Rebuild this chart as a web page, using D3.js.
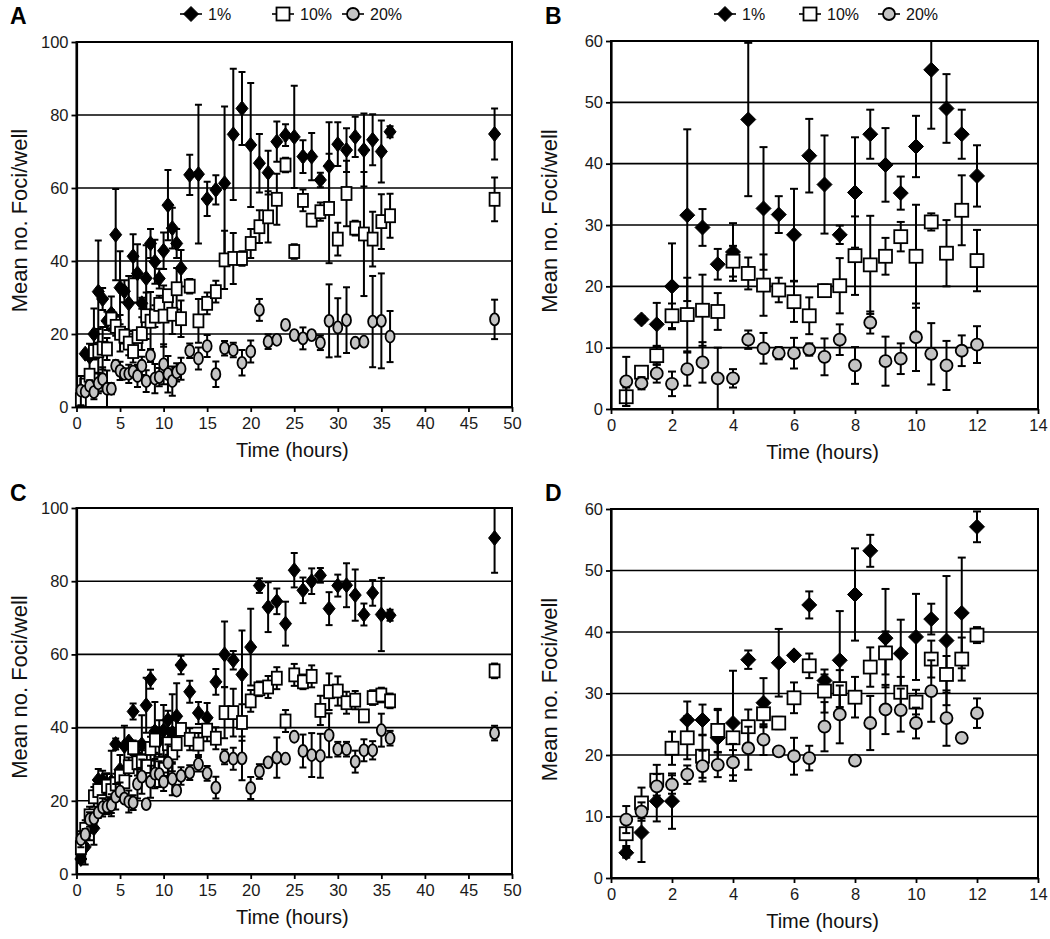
<!DOCTYPE html>
<html><head><meta charset="utf-8">
<script src="https://cdn.jsdelivr.net/npm/d3@7"></script>
<style>body{margin:0;background:#fff;} text{font-family:Arial,"Liberation Sans",sans-serif;}</style>
</head><body>
<svg id="chart" width="1050" height="939"></svg>
<script>
const seriesNames = ["1%", "10%", "20%"];
const hoursEarly = [0.5,1,1.5,2,2.5,3,3.5,4,4.5,5,5.5,6,6.5,7,7.5,8,8.5,9,9.5,10,10.5,11,11.5,12];
const hoursLate = [13,14,15,16,17,18,19,20,21,22,23,24,25,26,27,28,29,30,31,32,33,34,35,36,48];

// Panel B (first 12 h of experiment shown in A)
const B_1 = [null,14.6,13.8,20,31.6,29.6,23.6,25.6,47.2,32.7,31.7,28.4,41.3,36.6,28.4,35.3,44.8,39.8,35.2,42.8,55.3,49,44.8,38];
const B_1err = [null,0.5,3.5,7,14,3,2.5,4.7,12.5,10,3,7.5,6,8,1.5,9,4,6,2.7,5,9.6,5.6,4,5];
const B_10 = [2,6,8.7,15.2,15.4,16.1,15.9,24.1,22.1,20.2,19.4,17.5,15.2,19.3,20.1,25,23.5,24.9,28.1,24.9,30.5,25.4,32.4,24.2];
const B_10err = [1.5,1,1.5,2,6,5.8,3,2.5,2.6,5,2,3.3,3,1,4.5,6.4,8,3,2.4,8.4,1.4,5.4,5.7,5];
const B_20 = [4.5,4.2,5.8,4.1,6.5,7.6,5,5,11.3,9.9,9.1,9.1,9.7,8.5,11.3,7.1,14.1,7.8,8.2,11.7,9,7.1,9.5,10.5];
const B_20err = [4,1,1.5,2,2.7,3.3,5,1.5,1.5,2.5,1,2.5,1,3,2.5,3,1.8,4,2.5,5.5,5,4,2.5,3];

// Panel A, hours 13-36 and 48
const A_1late = [63.6,63.8,57,59.5,61.3,74.7,81.8,71.8,66.8,64.2,72.7,74.5,74,68.6,68.6,62.2,66,72,70.4,74,70.4,73.2,70,75.4,74.8];
const A_1lateErr = [5.5,19,4.7,4,21,18,10,17,8,6,5.5,3,14,4.5,6.5,2,12,6,6,5.5,10,7,8.5,1.5,7];
const A_10late = [33.1,23.6,28.4,31.6,40.3,40.7,40.7,44.8,49.4,52.1,56.9,66.3,42.6,56.6,51.2,53.5,54.4,46,58.5,49,47.4,46,50.8,52.4,56.9];
const A_10lateErr = [2,6,3,3,8,7,2,4,4.5,7,7,2,2,3,1,2.5,15,4.5,9,2,17,7.5,7.5,6,6];
const A_20late = [15.4,13.3,16.7,9,16.1,15.6,12.1,15.2,26.6,17.9,18.4,22.5,19.7,18.8,19.7,17.6,23.6,21.8,23.8,17.6,17.9,23.4,23.6,19.3,24];
const A_20lateErr = [2,3,3,3.5,2,2,3.5,3,3,2,1,1,1,3,1,2,10,8,9,1,1,12.5,13,7,5.4];

// Panel D (first 12 h of experiment shown in C)
const D_1 = [4.1,7.4,12.5,12.5,25.7,25.7,22.8,25.2,35.5,28.5,35,36.2,44.4,32.1,35.4,46.1,53.2,39,36.5,39.2,42.1,38.6,43.1,57.1];
const D_1err = [0.8,4.8,3.3,4.5,3,2.5,4.5,8.5,1.5,4,5.5,0.5,2.2,1,8,7.5,2.6,8,5.5,7,2.5,10.5,9,2.5];
const D_10 = [7.2,12.2,15.9,21.1,22.8,19.8,24,22.8,24.6,26.7,25.2,29.3,34.5,30.4,30.8,29.4,34.3,36.6,30.2,28.6,35.6,33.1,35.6,39.5];
const D_10err = [2,2.5,2.5,2.7,3.5,3.5,3.5,2,2.8,2,1,2.5,2,3.5,3,3.3,3.2,3.5,2.5,2,3,3,3.5,1.3];
const D_20 = [9.5,10.8,14.9,15.2,16.8,18.2,18.4,18.8,21.1,22.5,20.6,19.8,19.5,24.6,26.6,19.1,25.2,27.4,27.3,25.2,30.4,26,22.8,26.8];
const D_20err = [2.2,1.5,2,1.5,1.5,2.5,2,3,3.5,2.5,0.5,3,2,4,4.7,0.5,4.4,4,3.5,2.5,5,4.5,0.7,2.4];

// Panel C, hours 13-36 and 48
const C_1late = [49.8,44,42.7,52.5,60,58.4,54.5,62,78.8,72.9,74.5,68.4,83,77.5,80,81.6,72.5,78.8,78.9,76.2,70.9,76.8,70.9,70.7,91.8];
const C_1lateErr = [3,3,4,3.5,9,2.5,12,10.5,2,6.8,3.5,6,4.7,3.5,3.5,2,4.5,3,6,7,3,3.5,10,1.5,9.5];
const C_10late = [36.8,35.5,39.3,37.1,44.1,44.1,41.4,47.3,50.6,51.1,53.5,41.8,54.4,52.5,54,44.7,49.8,50,46.8,47.5,43.2,48.2,48.9,47.3,55.5];
const C_10lateErr = [3,3,3,3,7,6.5,5,3,2,3,3,3,3,2,3,4,5,4,3,2.5,1.5,2,2,2,2];
const C_20late = [27.7,30,27.5,23.6,32,31.5,31.6,23.5,28,30.5,31.8,31.5,37.5,33.6,32.5,32.3,37.9,34.1,34.1,30.7,33.8,33.8,39.3,37.1,38.5];
const C_20lateErr = [2,2,2,3,2,3,6,3,2,1,5.5,1,1,4.5,6,6,6,2,2,3,3,2.5,4.5,2,2];

const ticksLong = [0,5,10,15,20,25,30,35,40,45,50];
const ticksShort = [0,2,4,6,8,10,12,14];
const yTicks100 = [0,20,40,60,80,100];
const yTicks60 = [0,10,20,30,40,50,60];

const hoursAll = hoursEarly.concat(hoursLate);
const svg = d3.select("#chart");

const panels = [
  {id:"A", left:76.5, right:512, top:42, bottom:407, xDom:[0,50], yDom:[0,100], xT:ticksLong, yT:yTicks100,
   hours:hoursAll, legend:true, mk:{dw:12,dh:15,sw:10,sh:13,cw:9,ch:12}, cap:7,
   vals:[B_1.concat(A_1late), B_10.concat(A_10late), B_20.concat(A_20late)],
   errs:[B_1err.concat(A_1lateErr), B_10err.concat(A_10lateErr), B_20err.concat(A_20lateErr)],
   letterX:10, letterY:24, ylabX:27, legX:[191,283,353]},
  {id:"B", left:611, right:1038, top:41, bottom:409, xDom:[0,14], yDom:[0,60], xT:ticksShort, yT:yTicks60,
   hours:hoursEarly, legend:true, mk:{dw:15,dh:15,sw:13,sh:13,cw:12,ch:12}, cap:8,
   vals:[B_1,B_10,B_20], errs:[B_1err,B_10err,B_20err],
   letterX:545, letterY:24, ylabX:557, legX:[725,810,889]},
  {id:"C", left:76.5, right:512, top:508, bottom:874, xDom:[0,50], yDom:[0,100], xT:ticksLong, yT:yTicks100,
   hours:hoursAll, legend:false, mk:{dw:12,dh:15,sw:10,sh:13,cw:9,ch:12}, cap:7,
   vals:[D_1.concat(C_1late), D_10.concat(C_10late), D_20.concat(C_20late)],
   errs:[D_1err.concat(C_1lateErr), D_10err.concat(C_10lateErr), D_20err.concat(C_20lateErr)],
   letterX:10, letterY:501, ylabX:27},
  {id:"D", left:611, right:1038, top:509, bottom:878, xDom:[0,14], yDom:[0,60], xT:ticksShort, yT:yTicks60,
   hours:hoursEarly, legend:false, mk:{dw:15,dh:15,sw:13,sh:13,cw:12,ch:12}, cap:8,
   vals:[D_1,D_10,D_20], errs:[D_1err,D_10err,D_20err],
   letterX:545, letterY:501, ylabX:557}
];

function drawMarker(sel, kind, m){
  if(kind===0){
    sel.append("path").attr("d", `M0,${-m.dh/2}L${m.dw/2},0L0,${m.dh/2}L${-m.dw/2},0Z`)
      .attr("fill","#000").attr("stroke","#000").attr("stroke-width",1);
  } else if(kind===1){
    sel.append("rect").attr("x",-m.sw/2).attr("y",-m.sh/2).attr("width",m.sw).attr("height",m.sh)
      .attr("fill","#fff").attr("stroke","#000").attr("stroke-width",1.8);
  } else {
    sel.append("ellipse").attr("rx",m.cw/2).attr("ry",m.ch/2)
      .attr("fill","#c4c4c4").attr("stroke","#000").attr("stroke-width",1.8);
  }
}

panels.forEach(p => {
  const g = svg.append("g");
  const x = d3.scaleLinear().domain(p.xDom).range([p.left, p.right]);
  const y = d3.scaleLinear().domain(p.yDom).range([p.bottom, p.top]);

  g.append("clipPath").attr("id","clip"+p.id).append("rect")
    .attr("x",p.left).attr("y",p.top).attr("width",p.right-p.left).attr("height",p.bottom-p.top);

  g.selectAll("line.grid").data(p.yT.slice(1)).join("line")
    .attr("x1",p.left).attr("x2",p.right).attr("y1",d=>y(d)).attr("y2",d=>y(d))
    .attr("stroke","#000").attr("stroke-width",1.6);
  g.append("rect").attr("x",p.left).attr("y",p.top).attr("width",p.right-p.left).attr("height",p.bottom-p.top)
    .attr("fill","none").attr("stroke","#000").attr("stroke-width",2);

  const xa = g.append("g").attr("transform",`translate(0,${p.bottom})`)
    .call(d3.axisBottom(x).tickValues(p.xT).tickSize(5).tickSizeOuter(0).tickPadding(5).tickFormat(d3.format("d")));
  const ya = g.append("g").attr("transform",`translate(${p.left},0)`)
    .call(d3.axisLeft(y).tickValues(p.yT).tickSize(5).tickSizeOuter(0).tickPadding(3).tickFormat(d3.format("d")));
  [xa,ya].forEach(a=>{
    a.select(".domain").attr("stroke","#000").attr("stroke-width",2.2);
    a.selectAll(".tick line").attr("stroke","#000").attr("stroke-width",1.8);
    a.selectAll("text").attr("font-size",16.5).attr("fill","#1a1a1a").attr("font-family","Arial, 'Liberation Sans', sans-serif");
  });

  const plot = g.append("g");
  p.vals.forEach((vals, si) => {
    const errs = p.errs[si];
    const pts = p.hours.map((h,i)=>({h, v:vals[i], e:errs[i]})).filter(d=>d.v!=null);
    const eg = plot.append("g").attr("clip-path",`url(#clip${p.id})`);
    pts.forEach(d=>{
      const y1 = y(d.v - d.e), y2 = y(d.v + d.e), cx = x(d.h);
      eg.append("line").attr("x1",cx).attr("x2",cx).attr("y1",y1).attr("y2",y2).attr("stroke","#000").attr("stroke-width",2);
      eg.append("line").attr("x1",cx-p.cap/2).attr("x2",cx+p.cap/2).attr("y1",y1).attr("y2",y1).attr("stroke","#000").attr("stroke-width",2);
      eg.append("line").attr("x1",cx-p.cap/2).attr("x2",cx+p.cap/2).attr("y1",y2).attr("y2",y2).attr("stroke","#000").attr("stroke-width",2);
    });
    const mg = plot.append("g");
    pts.forEach(d=>{
      const s = mg.append("g").attr("transform",`translate(${x(d.h)},${y(d.v)})`);
      drawMarker(s, si, p.mk);
    });
  });

  g.append("text").attr("x",p.letterX).attr("y",p.letterY).attr("font-size",23).attr("font-weight","bold").text(p.id);
  const cy = (p.top+p.bottom)/2 - 4;
  g.append("text").attr("transform",`translate(${p.ylabX},${cy}) rotate(-90)`).attr("text-anchor","middle")
    .attr("font-size",22).attr("fill","#111").text("Mean no. Foci/well");
  g.append("text").attr("x",(p.left+p.right)/2 - 2).attr("y",p.bottom+50).attr("text-anchor","middle")
    .attr("font-size",20).attr("fill","#111").text("Time (hours)");

  if(p.legend){
    const lm = {dw:15,dh:15,sw:13,sh:13,cw:12,ch:12};
    p.legX.forEach((lx,si)=>{
      const lg = g.append("g").attr("transform",`translate(${lx},14)`);
      lg.append("line").attr("x1",-11).attr("x2",11).attr("stroke","#000").attr("stroke-width",1.6);
      drawMarker(lg, si, lm);
      lg.append("text").attr("x",17).attr("y",6).attr("font-size",16).attr("fill","#111").text(seriesNames[si]);
    });
  }
});
</script>
</body></html>
